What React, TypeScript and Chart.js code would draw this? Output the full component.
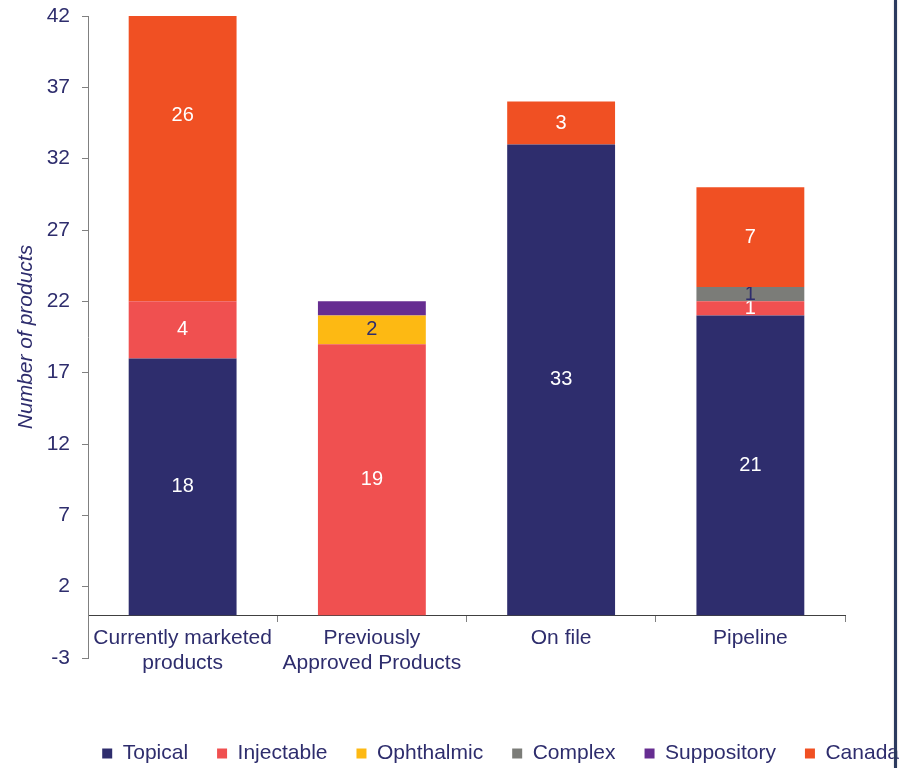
import React, { useEffect, useRef } from "react";
import { Chart, registerables } from "chart.js";

Chart.register(...registerables);

const categories: (string | string[])[] = [
  ["Currently marketed", "products"],
  ["Previously", "Approved Products"],
  "On file",
  "Pipeline",
];

const seriesNames = ["Topical", "Injectable", "Ophthalmic", "Complex", "Suppository", "Canada"];
const topical = [18, null, 33, 21];
const injectable = [4, 19, null, 1];
const ophthalmic = [null, 2, null, null];
const complex = [null, null, null, 1];
const suppository = [null, 1, null, null];
const canada = [26, null, 3, 7];

const seriesColors = ["#2E2D6D", "#F05050", "#FDB913", "#7B7C78", "#662D91", "#F05023"];
const labelColors = ["#FFFFFF", "#FFFFFF", "#2E2D6D", "#2E2D6D", "#FFFFFF", "#FFFFFF"];
const showLabels = [true, true, true, true, false, true];

const yMin = -3;
const yMax = 42;
const yStep = 5;

const TEXT = "#2E2D6D";
const FONT = '"Liberation Sans", Arial, sans-serif';

const segLabels = {
  id: "segLabels",
  afterDatasetsDraw(chart: any) {
    const ctx = chart.ctx;
    ctx.save();
    ctx.font = `20px ${FONT}`;
    ctx.textAlign = "center";
    ctx.textBaseline = "middle";
    chart.data.datasets.forEach((ds: any, i: number) => {
      if (!showLabels[i]) return;
      const meta = chart.getDatasetMeta(i);
      meta.data.forEach((bar: any, j: number) => {
        const v = ds.data[j];
        if (v == null) return;
        const p = bar.getProps(["x", "y", "base", "width"], true);
        const top = Math.min(p.y, p.base);
        const h = Math.abs(p.base - p.y);
        ctx.save();
        ctx.beginPath();
        ctx.rect(p.x - p.width / 2, top, p.width, h);
        ctx.clip();
        ctx.fillStyle = labelColors[i];
        ctx.fillText(String(v), p.x, (p.y + p.base) / 2);
        ctx.restore();
      });
    });
    ctx.restore();
  },
};

export default function App() {
  const ref = useRef<HTMLCanvasElement | null>(null);

  useEffect(() => {
    if (!ref.current) return;
    Chart.defaults.font.family = FONT;
    const data = [topical, injectable, ophthalmic, complex, suppository, canada];
    const chart = new Chart(ref.current, {
      type: "bar",
      data: {
        labels: categories,
        datasets: seriesNames.map((name, i) => ({
          label: name,
          data: data[i],
          backgroundColor: seriesColors[i],
          borderWidth: 0,
          barPercentage: 0.57,
          categoryPercentage: 1,
        })),
      },
      options: {
        animation: false,
        responsive: false,
        layout: { padding: { left: 6, top: 16, right: 0, bottom: 0 } },
        plugins: {
          legend: {
            position: "bottom",
            align: "end",
            labels: {
              boxWidth: 10,
              boxHeight: 10,
              padding: 29,
              color: TEXT,
              font: { size: 21, family: FONT },
            },
          },
          tooltip: { enabled: false },
        },
        scales: {
          x: {
            type: "category",
            stacked: true,
            position: { y: 0 } as any,
            z: 1,
            offset: true,
            grid: {
              offset: true,
              drawOnChartArea: false,
              drawTicks: true,
              tickLength: 6,
              color: "#808080",
            },
            border: { display: true, color: "#404040", width: 1 },
            ticks: {
              color: TEXT,
              font: { size: 21, family: FONT },
              padding: 4,
              maxRotation: 0,
              autoSkip: false,
            },
          },
          x2: {
            type: "category",
            position: "bottom",
            grid: { display: false },
            border: { display: false },
            ticks: { display: false },
            afterFit: (s: any) => {
              s.height = 56;
            },
          },
          y: {
            type: "linear",
            stacked: true,
            min: yMin,
            max: yMax,
            grid: {
              drawOnChartArea: false,
              drawTicks: true,
              tickLength: 6,
              color: "#808080",
            },
            border: { display: true, color: "#808080", width: 1 },
            ticks: {
              stepSize: yStep,
              color: TEXT,
              font: { size: 21, family: FONT },
              padding: 12,
            },
            title: {
              display: true,
              text: "Number of products",
              color: TEXT,
              font: { size: 21, style: "italic", family: FONT },
              padding: { top: 7.4, bottom: 8 },
            },
            afterFit: (s: any) => {
              s.width = 82;
              s.paddingTop = 0;
              s.paddingBottom = 0;
            },
          },
          y2: {
            type: "linear",
            position: "right",
            grid: { display: false },
            border: { display: false },
            ticks: { display: false },
            afterFit: (s: any) => {
              s.width = 83;
            },
          },
        },
      },
      plugins: [segLabels],
    });
    return () => chart.destroy();
  }, []);

  return (
    <div
      style={{
        position: "absolute",
        left: 0,
        top: 0,
        width: 910,
        height: 768,
        overflow: "hidden",
        background: "#FFFFFF",
      }}
    >
      <canvas ref={ref} width={928} height={774} style={{ display: "block" }} />
      <div
        style={{
          position: "absolute",
          left: 894,
          top: 0,
          width: 3,
          height: 768,
          background: "#2B3A5E",
          boxShadow: "0 0 2px #BBBBBB",
        }}
      />
    </div>
  );
}
